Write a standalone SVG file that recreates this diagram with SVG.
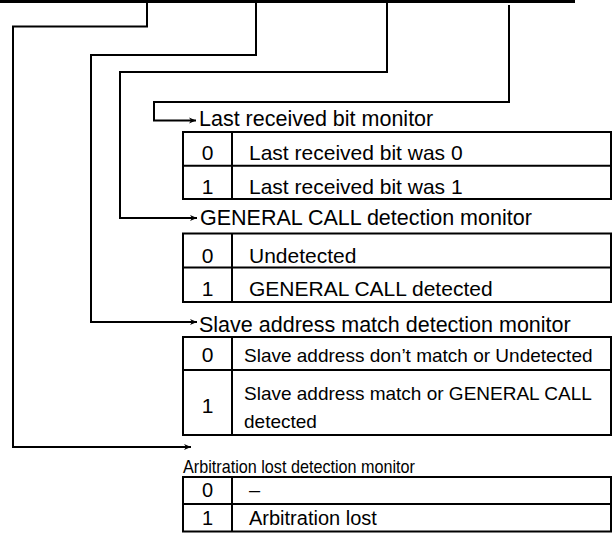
<svg xmlns="http://www.w3.org/2000/svg" width="616" height="538" viewBox="0 0 616 538">
<style>
.ln{fill:none;stroke:#000;stroke-width:2}
.tb{fill:#fff;stroke:#000;stroke-width:2}
.h{font-family:"Liberation Sans",Arial,sans-serif;font-size:21.5px;fill:#000}
.t{font-family:"Liberation Sans",Arial,sans-serif;font-size:21px;fill:#000}
.s{font-family:"Liberation Sans",Arial,sans-serif;font-size:19px;fill:#000}
.a{font-family:"Liberation Sans",Arial,sans-serif;font-size:19px;fill:#000}
.u{font-family:"Liberation Sans",Arial,sans-serif;font-size:20px;fill:#000}
.c{text-anchor:middle}
</style>
<defs>
<marker id="ah" markerWidth="8" markerHeight="8" refX="7" refY="4" orient="auto" markerUnits="userSpaceOnUse">
<path d="M0,1 L7,4 L0,7 L2,4 Z" fill="#000"/>
</marker>
</defs>
<rect width="616" height="538" fill="#fff"/>
<g id="connectors">
<line x1="0" y1="1.5" x2="575" y2="1.5" stroke="#000" stroke-width="3"/>
<path class="ln" d="M147,0 V26.5 H13 V447 H191" marker-end="url(#ah)"/>
<path class="ln" d="M256,0 V55 H91 V322 H197" marker-end="url(#ah)"/>
<path class="ln" d="M387,0 V72 H120 V218 H197" marker-end="url(#ah)"/>
<path class="ln" d="M509,5 V102 H154 V120.5 H196" marker-end="url(#ah)"/>
</g>
<g id="last-received-bit">
<text class="h" x="199" y="126">Last received bit monitor</text>
<rect class="tb" x="183" y="132" width="428" height="67"/>
<line class="ln" x1="183" y1="165.8" x2="611" y2="165.8"/>
<line class="ln" x1="232" y1="132" x2="232" y2="199"/>
<text class="t c" x="207.5" y="160">0</text>
<text class="t" x="249" y="160">Last received bit was 0</text>
<text class="t c" x="207.5" y="193.5">1</text>
<text class="t" x="249" y="193.5">Last received bit was 1</text>
</g>
<g id="general-call">
<text class="h" x="200" y="225">GENERAL CALL detection monitor</text>
<rect class="tb" x="183" y="233.5" width="428" height="68.5"/>
<line class="ln" x1="183" y1="267.6" x2="611" y2="267.6"/>
<line class="ln" x1="232" y1="233.5" x2="232" y2="302"/>
<text class="t c" x="207.5" y="263">0</text>
<text class="t" x="249" y="263">Undetected</text>
<text class="t c" x="207.5" y="295.5">1</text>
<text class="t" x="249" y="295.5">GENERAL CALL detected</text>
</g>
<g id="slave-address">
<text class="h" x="199" y="331.5">Slave address match detection monitor</text>
<rect class="tb" x="183" y="337" width="428" height="98"/>
<line class="ln" x1="183" y1="370" x2="611" y2="370"/>
<line class="ln" x1="232" y1="337" x2="232" y2="435"/>
<text class="t c" x="207.5" y="362">0</text>
<text class="s" x="244" y="362">Slave address don’t match or Undetected</text>
<text class="t c" x="207.5" y="413">1</text>
<text class="s" x="244" y="400">Slave address match or GENERAL CALL</text>
<text class="s" x="244" y="428">detected</text>
</g>
<g id="arbitration">
<text class="a" x="183" y="473" textLength="232" lengthAdjust="spacingAndGlyphs">Arbitration lost detection monitor</text>
<rect class="tb" x="183" y="477" width="428" height="54.5"/>
<line class="ln" x1="183" y1="504" x2="611" y2="504"/>
<line class="ln" x1="232" y1="477" x2="232" y2="531.5"/>
<text class="u c" x="207.5" y="497">0</text>
<text class="u" x="249" y="497">–</text>
<text class="u c" x="207.5" y="525">1</text>
<text class="u" x="249" y="525">Arbitration lost</text>
</g>
</svg>
